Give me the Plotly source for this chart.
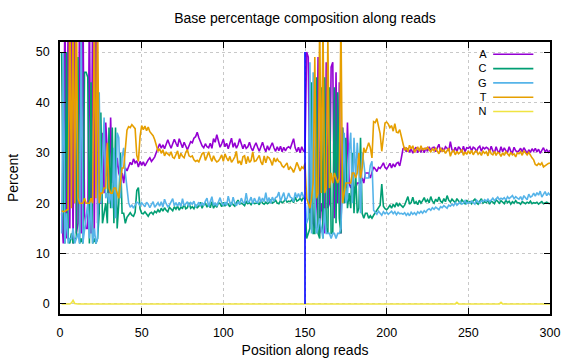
import plotly.graph_objects as go

positions = list(range(1, 301))

A = [
 18, 12, 60, 13, 58, 15, 55, 12, 58, 14,
 16, 60, 14, 62, 18, 15, 15, 60, 14, 60,
 14, 59, 16, 20, 20, 34, 22, 36, 30, 22,
 37, 24, 30, 25, 29, 26, 25, 26, 24, 27,
 26.4, 27.3, 28.1, 27.6, 28.8, 28.0, 28.4, 27.2, 28.3, 27.5,
 28.2, 27.4, 28.1, 28.6, 29.0, 28.3, 28.7, 29.2, 30.1, 31.2,
 31.8, 30.9, 31.6, 30.8, 31.9, 32.6, 31.7, 30.9, 31.8, 32.7,
 31.9, 31.2, 32.8, 31.9, 31.0, 32.1, 31.3, 30.6, 31.4, 32.2,
 32.0, 32.9, 33.2, 34.1, 33.0, 32.1, 31.4, 31.0, 31.8, 31.2,
 31.0, 31.9, 30.9, 32.8, 32.1, 33.6, 32.0, 31.1, 31.8, 32.7,
 31.2, 31.9, 30.8, 31.7, 32.9, 31.1, 32.0, 30.9, 31.6, 32.8,
 31.9, 30.8, 31.7, 30.9, 31.2, 32.1, 31.0, 30.4, 31.3, 32.0,
 31.1, 30.3, 31.2, 32.1, 31.0, 30.2, 31.4, 30.5, 31.3, 32.0,
 31.0, 30.3, 31.2, 30.4, 31.3, 30.2, 31.1, 30.4, 31.0, 31.2,
 30.9, 31.7, 32.8, 31.0, 30.2, 31.1, 30.0, 31.2, 30.4, 30.1,
 50, 49, 18, 21, 16, 15, 20, 49, 14, 20,
 18, 14, 48, 19, 20, 47, 48, 17, 46, 20,
 44, 14, 35, 24, 23, 36, 24, 23, 24, 23,
 23, 24, 24, 24, 25, 24, 26, 26, 26, 25,
 26, 27.2, 26.8, 26.3, 27.1, 26.9, 27.4, 28.0, 27.1, 26.8,
 27.3, 27.9, 27.0, 27.8, 27.2, 27.9, 28.1, 27.4, 29.0, 30.8,
 31.0, 30.2, 30.9, 30.1, 30.8, 29.9, 30.7, 31.1, 30.0, 30.8,
 30.1, 30.9, 30.0, 31.0, 30.3, 31.2, 30.4, 31.0, 31.1, 30.2,
 31.0, 31.7, 30.2, 31.0, 30.3, 31.2, 30.9, 30.4, 32.2, 30.6,
 30.3, 31.1, 30.2, 31.2, 30.8, 30.1, 31.3, 30.2, 31.0, 30.9,
 31.2, 30.4, 31.1, 30.9, 30.2, 31.0, 31.3, 30.3, 31.1, 30.8,
 31.1, 30.9, 30.2, 31.3, 30.4, 30.0, 31.2, 30.3, 30.1, 31.2,
 30.2, 31.0, 30.4, 30.1, 31.2, 30.3, 30.0, 31.1, 30.4, 30.2,
 30.4, 30.9, 30.2, 31.0, 30.5, 29.8, 30.6, 30.1, 30.8, 30.3,
 30.9, 30.2, 30.7, 29.9, 30.5, 31.0, 30.2, 30.6, 30.1, 30.5,
]

C = [
 50, 20, 12, 50, 13, 12, 14, 12, 13, 13,
 49, 12, 13, 12, 46, 46, 45, 12, 44, 12,
 13, 12, 13, 18, 38, 16, 18, 20, 16, 35,
 19, 35, 16, 35, 15, 20, 30, 18, 18, 16,
 17.2, 17.8, 18.1, 17.6, 17.4, 18.2, 22.5, 23.1, 18.9, 18.0,
 17.9, 18.3, 17.7, 17.4, 18.0, 18.2, 17.8, 18.4, 18.1, 18.7,
 18.2, 19.0, 18.4, 19.1, 18.6, 18.3, 19.2, 18.9, 18.5, 19.3,
 18.8, 19.4, 18.6, 19.2, 19.0, 19.8, 18.9, 19.1, 20.1, 19.0,
 19.3, 18.9, 19.7, 19.1, 19.4, 20.2, 19.0, 19.8, 20.0, 19.2,
 19.8, 19.1, 20.3, 19.0, 19.7, 19.2, 20.1, 19.9, 19.3, 20.2,
 19.4, 20.0, 19.8, 19.3, 20.2, 19.7, 19.4, 20.1, 20.6, 19.8,
 20.0, 19.8, 19.5, 20.3, 19.9, 20.1, 19.7, 20.2, 19.9, 20.0,
 20.1, 19.7, 20.6, 20.0, 19.8, 20.2, 19.9, 20.1, 20.7, 20.0,
 20.2, 20.6, 20.0, 19.9, 20.5, 20.1, 20.3, 20.8, 20.2, 20.4,
 20.3, 20.7, 20.1, 21.2, 20.4, 20.6, 21.0, 20.5, 21.1, 20.8,
 13, 14, 15, 44, 14, 14, 45, 14, 13, 43,
 13, 45, 15, 14, 43, 14, 14, 43, 16, 42,
 17, 14, 35, 20, 33, 19, 22, 19, 30, 18,
 26, 18, 19, 33, 18, 17, 18, 18, 17, 17.5,
 17.0, 17.6, 18.1, 18.4, 18.9, 19.6, 23.8, 19.4, 18.9, 18.7,
 19.1, 19.6, 19.0, 19.8, 19.2, 20.1, 19.4, 19.9, 19.5, 19.2,
 19.6, 20.4, 21.3, 19.8, 20.1, 21.2, 19.9, 20.3, 19.7, 20.6,
 20.0, 20.5, 21.1, 20.2, 20.7, 20.1, 21.3, 20.4, 20.0, 20.8,
 20.3, 21.2, 20.4, 20.1, 20.9, 20.3, 21.5, 20.6, 20.2, 20.8,
 20.4, 20.1, 20.9, 20.3, 20.0, 20.7, 20.2, 19.9, 20.6, 20.1,
 20.3, 19.9, 20.5, 20.8, 20.1, 19.8, 20.4, 20.9, 20.0, 20.3,
 20.1, 20.6, 19.8, 20.4, 20.2, 19.9, 20.7, 20.3, 20.0, 20.5,
 20.2, 19.9, 20.6, 20.1, 20.4, 19.8, 20.3, 20.0, 20.5, 20.1,
 20.1, 19.8, 20.3, 20.0, 19.9, 20.2, 20.0, 20.4, 19.9, 20.1,
 20.0, 20.2, 19.8, 20.1, 20.3, 19.9, 20.0, 20.2, 20.0, 19.9,
]

G = [
 14, 50, 12, 18, 12, 13, 13, 15, 12, 13,
 14, 12, 54, 12, 15, 18, 20, 13, 21, 12,
 15, 12, 13, 42, 20, 28, 37, 21, 22, 20,
 22, 19, 31, 17, 34, 33, 21, 29, 31, 26,
 22.3, 20.1, 19.2, 19.6, 19.0, 19.5, 20.2, 20.0, 19.4, 20.1,
 19.7, 19.3, 20.2, 19.8, 19.1, 19.9, 20.3, 19.2, 19.8, 20.1,
 19.4, 20.3, 19.2, 20.8, 19.9, 19.3, 19.6, 20.4, 20.9, 19.5,
 20.1, 19.4, 20.2, 19.3, 20.9, 19.5, 20.0, 20.3, 19.4, 20.1,
 19.8, 20.4, 19.3, 19.6, 20.2, 19.4, 20.1, 19.5, 20.4, 21.0,
 19.3, 20.2, 21.3, 19.5, 20.1, 19.4, 20.3, 21.1, 20.0, 19.6,
 20.2, 19.5, 21.4, 20.1, 19.6, 21.2, 20.0, 19.5, 20.3, 19.8,
 21.0, 20.2, 20.0, 22.0, 20.1, 20.4, 21.2, 19.9, 21.0, 20.3,
 20.1, 21.3, 20.2, 21.0, 20.3, 22.1, 20.2, 21.1, 20.0, 21.2,
 20.4, 21.1, 21.3, 22.2, 20.4, 21.2, 22.1, 20.5, 21.0, 22.0,
 21.2, 21.0, 20.3, 22.1, 21.1, 21.9, 21.0, 22.2, 21.3, 21.0,
 16, 17, 48, 14, 46, 22, 14, 15, 17, 15,
 13, 19, 14, 14, 14, 13, 14, 14, 13, 14,
 14, 15, 27, 34, 20, 21, 30, 34, 20, 33,
 25, 32, 27, 18, 30, 28, 25, 25, 25, 27.5,
 28.3, 18.6, 18.2, 17.8, 18.4, 18.0, 17.6, 18.3, 17.9, 18.2,
 17.8, 18.1, 18.4, 17.9, 18.3, 17.7, 18.2, 17.9, 18.0, 17.8,
 18.1, 17.6, 18.0, 17.5, 18.2, 17.8, 18.1, 17.7, 18.3, 18.0,
 18.4, 18.0, 18.5, 18.2, 18.7, 18.9, 18.6, 19.1, 18.8, 19.2,
 19.0, 18.7, 19.3, 19.1, 19.5, 19.2, 19.0, 19.6, 19.4, 19.8,
 19.5, 20.1, 19.6, 19.9, 20.3, 19.8, 20.0, 20.5, 19.9, 20.2,
 20.0, 20.4, 20.1, 19.8, 20.6, 20.2, 20.0, 20.5, 20.3, 20.7,
 20.4, 20.8, 20.3, 20.6, 21.0, 20.5, 20.9, 21.2, 20.7, 21.0,
 20.8, 21.1, 20.6, 21.3, 20.9, 21.2, 21.5, 20.9, 21.3, 21.0,
 20.8, 21.3, 20.6, 21.5, 21.0, 20.7, 21.8, 21.2, 21.4, 22.0,
 21.4, 22.1, 21.6, 22.4, 21.2, 21.9, 22.3, 21.5, 22.0, 21.6,
]

T = [
 18.5, 18.3, 18.4, 18.6, 18.8, 62, 19, 62, 20, 61,
 21, 20, 20, 20, 21, 20, 20, 20, 21, 20,
 59, 21, 59, 20, 22, 22, 23, 23, 32, 23,
 22, 22, 23, 23, 22, 21, 24, 27, 27, 31,
 34.5, 35.2, 35.0, 35.6, 35.3, 34.8, 29.5, 28.3, 33.2, 35.4,
 34.6, 35.3, 34.4, 35.1, 34.2, 33.9, 33.4, 32.6, 31.5, 30.3,
 30.8, 29.9, 30.6, 29.4, 30.1, 29.8, 29.5, 30.2, 29.1, 28.9,
 29.6, 30.4, 28.8, 29.9, 29.3, 29.0, 30.1, 30.6, 29.4, 29.2,
 29.4, 28.6, 28.3, 28.5, 28.2, 28.9, 29.8, 30.1, 28.5, 29.3,
 30.2, 29.1, 28.3, 29.4, 28.6, 28.2, 28.4, 28.9, 29.6, 28.3,
 29.8, 29.0, 28.4, 29.3, 28.1, 28.6, 29.2, 30.3, 27.9, 28.4,
 27.6, 29.2, 29.4, 27.8, 29.3, 28.1, 28.5, 30.2, 28.3, 28.4,
 29.1, 29.5, 28.2, 27.6, 29.4, 28.0, 29.2, 29.0, 28.4, 27.5,
 29.0, 28.2, 28.8, 28.3, 28.1, 27.4, 27.1, 27.5, 28.0, 26.6,
 27.2, 26.8, 26.1, 27.0, 28.1, 27.3, 26.4, 27.2, 26.9, 27.9,
 21, 20, 19, 21, 24, 49, 21, 22, 56, 22,
 56, 22, 23, 53, 23, 26, 24, 26, 25, 24,
 25, 57, 20, 22, 24, 24, 24, 24, 26, 26,
 25, 26, 30, 25, 27, 31, 30, 31, 32, 31,
 29, 36.2, 36.0, 36.8, 35.4, 33.8, 30.3, 33.9, 35.9, 36.1,
 35.7, 35.0, 35.4, 34.3, 35.8, 34.1, 34.0, 34.6, 33.0, 31.8,
 30.5, 31.1, 30.2, 31.5, 30.8, 31.4, 30.1, 30.6, 31.2, 30.3,
 31.4, 30.5, 30.9, 30.7, 31.1, 30.6, 30.2, 30.8, 30.4, 30.9,
 30.2, 29.8, 31.0, 30.3, 30.6, 29.9, 30.4, 30.9, 29.3, 30.2,
 30.5, 29.6, 30.3, 29.8, 30.1, 30.7, 29.5, 30.2, 29.7, 30.4,
 29.8, 30.5, 29.6, 30.2, 30.4, 29.7, 30.1, 29.5, 30.3, 29.9,
 30.2, 29.4, 30.6, 29.8, 29.6, 30.3, 29.5, 30.1, 29.9, 29.3,
 30.0, 29.5, 30.2, 29.7, 29.4, 30.1, 29.6, 29.8, 29.2, 30.0,
 29.8, 30.2, 29.5, 30.4, 29.9, 29.6, 30.1, 29.4, 29.0, 28.6,
 27.7, 27.5, 27.9, 27.6, 28.0, 27.2, 27.5, 27.7, 27.9, 28.0,
]

N = [
 0, 0, 0, 0, 0, 0, 0.2, 0.7, 0.1, 0,
 0, 0, 0, 0, 0, 0, 0, 0, 0, 0,
 0, 0, 0, 0, 0, 0, 0, 0, 0, 0,
 0, 0, 0, 0, 0, 0, 0, 0, 0, 0,
 0, 0, 0, 0, 0, 0, 0, 0, 0, 0,
 0, 0, 0, 0, 0, 0, 0, 0, 0, 0,
 0, 0, 0, 0, 0, 0, 0, 0, 0, 0,
 0, 0, 0, 0, 0, 0, 0, 0, 0, 0,
 0, 0, 0, 0, 0, 0, 0, 0, 0, 0,
 0, 0, 0, 0, 0, 0, 0, 0, 0, 0,
 0, 0, 0, 0, 0, 0, 0, 0, 0, 0,
 0, 0, 0, 0, 0, 0, 0, 0, 0, 0,
 0, 0, 0, 0, 0, 0, 0, 0, 0, 0,
 0, 0, 0, 0, 0, 0, 0, 0, 0, 0,
 0, 0, 0, 0, 0, 0, 0, 0, 0, 0,
 0, 0, 0, 0, 0, 0, 0, 0, 0, 0,
 0, 0, 0, 0, 0, 0, 0, 0, 0, 0,
 0, 0, 0, 0, 0, 0, 0, 0, 0, 0,
 0, 0, 0, 0, 0, 0, 0, 0, 0, 0,
 0, 0, 0, 0, 0, 0, 0, 0, 0, 0,
 0, 0, 0, 0, 0, 0, 0, 0, 0, 0,
 0, 0, 0, 0, 0, 0, 0, 0, 0, 0,
 0, 0, 0, 0, 0, 0, 0, 0, 0, 0,
 0, 0, 0, 0, 0, 0, 0, 0, 0, 0,
 0, 0, 0.3, 0, 0, 0, 0, 0, 0, 0,
 0, 0, 0, 0, 0, 0, 0, 0, 0, 0,
 0, 0, 0, 0, 0, 0, 0, 0, 0, 0.3,
 0, 0, 0, 0, 0, 0, 0, 0, 0, 0,
 0, 0, 0, 0, 0, 0, 0, 0, 0, 0,
 0, 0, 0, 0, 0, 0, 0, 0, 0, 0,
]

series_names = ["A", "C", "G", "T", "N"]
series_values = [A, C, G, T, N]
series_colors = ["#9400D3", "#009E73", "#56B4E9", "#E69F00", "#F0E442"]

read_boundary_x = [150, 150]
read_boundary_y = [0, 50]

x_ticks = [0, 50, 100, 150, 200, 250, 300]
y_ticks = [0, 10, 20, 30, 40, 50]

FONT = "Liberation Sans, Arial, sans-serif"

fig = go.Figure()
for name, vals, col in zip(series_names, series_values, series_colors):
    fig.add_trace(go.Scatter(x=positions, y=vals, mode="lines", name=name,
                             line=dict(color=col, width=1.6), showlegend=False))

fig.add_trace(go.Scatter(x=read_boundary_x, y=read_boundary_y, mode="lines",
                         line=dict(color="#0000FF", width=1.6), showlegend=False))

# legend (gnuplot style: labels right-aligned, sample lines on the right)
PLOT_H = 360 - 42 - 46
row_px = 14.3
y_top = (314 - 54.3) / PLOT_H
dy = row_px / PLOT_H
legend_mid = y_top - 2 * dy
ann = [dict(x=0.874, y=legend_mid, xref="paper", yref="paper",
            text="<br>".join(series_names), align="right",
            showarrow=False, xanchor="right", yanchor="middle", borderpad=0,
            font=dict(family=FONT, size=11, color="black"))]
shapes = []
for i, col in enumerate(series_colors):
    yy = y_top - i * dy
    shapes.append(dict(type="line", xref="paper", yref="paper",
                       x0=0.884, x1=0.966, y0=yy, y1=yy,
                       line=dict(color=col, width=1.6)))

fig.update_layout(
    width=576, height=360,
    margin=dict(l=60, r=26, t=42, b=46),
    paper_bgcolor="white", plot_bgcolor="white",
    font=dict(family=FONT, size=12.5, color="black"),
    title=dict(text="Base percentage composition along reads", x=0.5, xref="paper",
               y=0.95, yref="container", xanchor="center", yanchor="middle",
               font=dict(family=FONT, size=14, color="black")),
    annotations=ann, shapes=shapes,
)
fig.update_xaxes(range=[0, 300], tickvals=x_ticks, ticks="inside", ticklen=6,
                 tickcolor="black", showline=True, linecolor="black", linewidth=1.5,
                 mirror="ticks", showgrid=True, gridcolor="#c8c8c8", griddash="dot",
                 gridwidth=1, zeroline=False, ticklabelstandoff=6, automargin=False,
                 title=dict(text="Position along reads", standoff=6,
                            font=dict(family=FONT, size=14)))
fig.update_yaxes(range=[-2, 52], tickvals=y_ticks, ticks="inside", ticklen=6,
                 tickcolor="black", showline=True, linecolor="black", linewidth=1.5,
                 mirror="ticks", showgrid=True, gridcolor="#c8c8c8", griddash="dot",
                 gridwidth=1, zeroline=False, ticklabelstandoff=6, automargin=False,
                 title=dict(text="Percent", standoff=14,
                            font=dict(family=FONT, size=14)))

fig.write_html("out.html", config={"displayModeBar": False},
               post_script="document.body.style.margin='0px';document.body.style.overflow='hidden';")
